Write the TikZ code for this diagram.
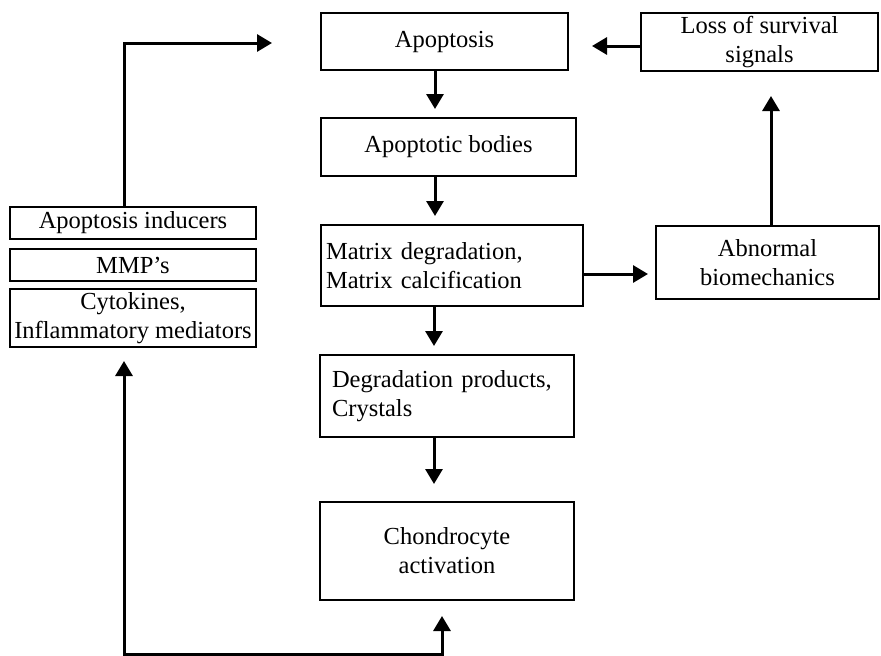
\documentclass[tikz,border=0pt]{standalone}
\usepackage{fontspec}
\setmainfont{Liberation Serif}
\usetikzlibrary{arrows.meta}
\tikzset{
  box/.style={draw, line width=1.6pt, inner sep=0pt, outer sep=0pt, align=center,
    font=\fontsize{24.5}{29}\selectfont},
  lbox/.style={box, align=left},
  arr/.style={line width=3pt, -{Triangle[width=17pt,length=15pt]}},
  ln/.style={line width=3pt, line cap=rect}
}
\begin{document}
\begin{tikzpicture}[x=1pt,y=-1pt]
\useasboundingbox (0,0) rectangle (881,656);
% boxes
\node[box, minimum width=247pt, minimum height=57pt] (apo) at (444.5,41.5) {Apoptosis};
\node[box, minimum width=237pt, minimum height=58pt] (loss) at (759.5,42) {Loss of survival\\signals};
\node[box, minimum width=255pt, minimum height=58pt] (bod) at (448.5,147) {Apoptotic bodies};
\node[lbox, inner xsep=5pt, text width=252pt, minimum height=81pt] (mat) at (452,265.5) {Matrix degradation,\\Matrix calcification};
\node[box, minimum width=223pt, minimum height=73pt] (abn) at (767.5,262.5) {Abnormal\\biomechanics};
\node[lbox, inner xsep=12pt, text width=230pt, minimum height=82pt] (deg) at (447,396) {Degradation products,\\Crystals};
\node[box, minimum width=254pt, minimum height=98pt] (cho) at (447,551) {Chondrocyte\\activation};
\node[box, minimum width=246pt, minimum height=32pt] (ind) at (133,223) {Apoptosis inducers};
\node[box, minimum width=246pt, minimum height=32pt] (mmp) at (133,265) {MMP’s};
\node[box, minimum width=246pt, minimum height=58pt] (cyt) at (133,318) {Cytokines,\\Inflammatory mediators};
% free ends
\coordinate (e1) at (272,43);
\coordinate (e2) at (592,46);
\coordinate (e3) at (435,109);
\coordinate (e4) at (435,216);
\coordinate (e5) at (434,346);
\coordinate (e6) at (648,274);
\coordinate (e7) at (771,96);
\coordinate (e8) at (434,484);
\coordinate (e9) at (442,616);
\coordinate (e10) at (124,361);
\coordinate (c1) at (124,43);
\coordinate (b1) at (124,654);
\coordinate (b2) at (442,654);
% connectors
\draw[arr] (ind.north -| c1) -- (c1) -- (e1);
\draw[arr] (loss.west |- e2) -- (e2);
\draw[arr] (apo.south -| e3) -- (e3);
\draw[arr] (bod.south -| e4) -- (e4);
\draw[arr] (mat.south -| e5) -- (e5);
\draw[arr] (mat.east |- e6) -- (e6);
\draw[arr] (abn.north -| e7) -- (e7);
\draw[arr] (deg.south -| e8) -- (e8);
\draw[ln] (b2) -- (b1);
\draw[arr] (b1) -- (e10);
\draw[arr] (b2) -- (e9);
\end{tikzpicture}
\end{document}
